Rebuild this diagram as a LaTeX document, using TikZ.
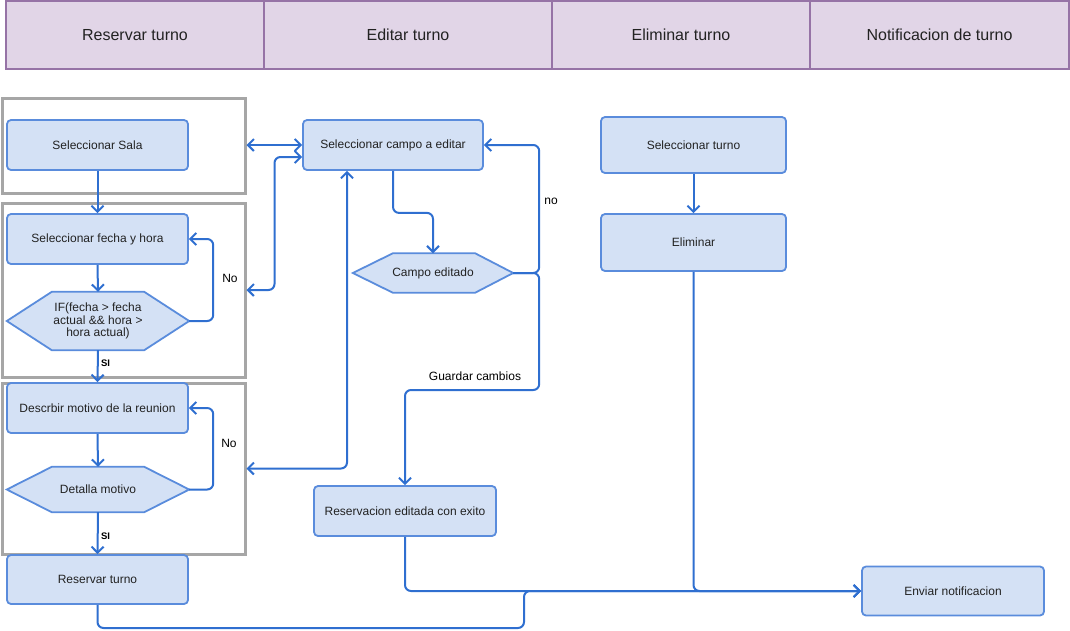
\documentclass[tikz,border=0pt]{standalone}
\usepackage{fontspec}
\setmainfont{Liberation Sans}
\usetikzlibrary{arrows.meta,calc}
\pgfdeclarelayer{background}
\pgfsetlayers{background,main}
\definecolor{headfill}{HTML}{E1D5E7}
\definecolor{headdraw}{HTML}{9673A6}
\definecolor{nodefill}{HTML}{D4E1F5}
\definecolor{nodedraw}{HTML}{5A8CDC}
\definecolor{edgecol}{HTML}{2F6FD0}
\definecolor{grayline}{HTML}{A6A6A6}
\definecolor{txt}{HTML}{222222}
\tikzset{
  headcell/.style={draw=headdraw, fill=headfill, line width=2pt, inner sep=0pt,
    font=\fontsize{16}{18}\selectfont, text=txt},
  procbox/.style={draw=nodedraw, fill=nodefill, line width=1.8pt, rounded corners=4pt,
    inner sep=0pt, font=\fontsize{12}{14}\selectfont, text=txt, align=center},
  hexbox/.style={inner sep=0pt, font=\fontsize{12}{12.5}\selectfont, text=txt, align=center},
  hexline/.style={draw=nodedraw, fill=nodefill, line width=1.8pt, line join=miter},
  grpbox/.style={draw=grayline, line width=3pt, inner sep=0pt},
  edge/.style={draw=edgecol, line width=2pt, rounded corners=6pt,
    -{Straight Barb[length=6pt,width=12pt]}},
  dedge/.style={draw=edgecol, line width=2pt, rounded corners=6pt,
    {Straight Barb[length=6pt,width=12pt]}-{Straight Barb[length=6pt,width=12pt]}},
  lbl/.style={font=\fontsize{12}{14}\selectfont, text=black, inner sep=0pt},
  silbl/.style={font=\fontsize{9.5}{11}\selectfont\bfseries, text=black, inner sep=0pt},
}
\begin{document}
\begin{tikzpicture}[x=1pt,y=-1pt]
\useasboundingbox (0,0) rectangle (1070,630);

% header
\node[headcell, minimum width=258pt, minimum height=68pt] (h1) at (135,35) {Reservar turno};
\node[headcell, minimum width=288pt, minimum height=68pt] (h2) at (408,35) {Editar turno};
\node[headcell, minimum width=258pt, minimum height=68pt] (h3) at (681,35) {Eliminar turno};
\node[headcell, minimum width=259pt, minimum height=68pt] (h4) at (939.5,35) {Notificacion de turno};

% group boxes
\node[grpbox, minimum width=243pt, minimum height=95pt] (g1) at (123.5,145.5) {};
\node[grpbox, minimum width=243pt, minimum height=174pt] (g2) at (123.5,290) {};
\node[grpbox, minimum width=243pt, minimum height=171pt] (g3) at (123.5,468.5) {};

% process nodes
\node[procbox, minimum width=181pt, minimum height=50pt] (sala) at (97.5,145) {Seleccionar Sala};
\node[procbox, minimum width=181pt, minimum height=50pt] (fecha) at (97.5,239) {Seleccionar fecha y hora};
\node[hexbox, minimum width=182pt, minimum height=58pt] (ifn) at (98,321) {IF(fecha > fecha\\actual \&\& hora >\\hora actual)};
\node[procbox, minimum width=181pt, minimum height=50pt] (desc) at (97.5,408) {Descrbir motivo de la reunion};
\node[hexbox, minimum width=182pt, minimum height=45pt] (det) at (98,489.5) {Detalla motivo};
\node[procbox, minimum width=181pt, minimum height=49pt] (res) at (97.5,579.5) {Reservar turno};

\node[procbox, minimum width=180pt, minimum height=50pt] (campo) at (393,145) {Seleccionar campo a editar};
\node[hexbox, minimum width=160pt, minimum height=39pt] (ced) at (433,273) {Campo editado};
\node[procbox, minimum width=182pt, minimum height=50pt] (rexito) at (405,511) {Reservacion editada con exito};

\node[procbox, minimum width=185pt, minimum height=56pt] (selt) at (693.5,145) {Seleccionar turno};
\node[procbox, minimum width=185pt, minimum height=57pt] (elim) at (693.5,242.5) {Eliminar};
\node[procbox, minimum width=182pt, minimum height=49pt] (env) at (953,591) {Enviar notificacion};

% hexagon outlines
\begin{pgfonlayer}{background}
\draw[hexline] (ifn.west) -- ([xshift=45pt]ifn.north west) -- ([xshift=-45pt]ifn.north east) -- (ifn.east) -- ([xshift=-45pt]ifn.south east) -- ([xshift=45pt]ifn.south west) -- cycle;
\draw[hexline] (det.west) -- ([xshift=45pt]det.north west) -- ([xshift=-45pt]det.north east) -- (det.east) -- ([xshift=-45pt]det.south east) -- ([xshift=45pt]det.south west) -- cycle;
\draw[hexline] (ced.west) -- ([xshift=40pt]ced.north west) -- ([xshift=-38pt]ced.north east) -- (ced.east) -- ([xshift=-38pt]ced.south east) -- ([xshift=40pt]ced.south west) -- cycle;
\end{pgfonlayer}

% coordinates
\coordinate (b1) at (524,628);

% edges: reservar
\draw[edge] (sala.south) -- (fecha.north);
\draw[edge] (fecha.south) -- (ifn.north);
\draw[edge] (ifn.south) -- (desc.north);
\draw[edge] (ifn.east) -- ++(24,0) |- (fecha.east);
\draw[edge] (desc.south) -- (det.north);
\draw[edge] (det.east) -- ++(24,0) |- (desc.east);
\draw[edge] (det.south) -- (res.north);
\draw[edge] (res.south) |- (b1) |- (env.west);

% edges: editar
\draw[dedge] (campo.west -| g1.east) -- (campo.west);
\draw[dedge] (g2.east) -- ++(28,0) |- ([yshift=-12pt]campo.west);
\draw[dedge] (g3.east) -| ([xshift=-46pt]campo.south);
\draw[edge] (campo.south) -- ++(0,42) -| (ced.north);
\draw[edge] (ced.east) -- ++(26,0) |- (campo.east);
\draw[edge] (ced.east) -- ++(26,0) -- ++(0,117) -| (rexito.north);
\draw[edge] (rexito.south) |- (env.west);

% edges: eliminar
\draw[edge] (selt.south) -- (elim.north);
\draw[edge] (elim.south) |- (env.west);

% labels
\node[lbl] (lno1) at (230,278) {No};
\node[lbl] (lno2) at (229,443) {No};
\node[silbl] (lsi1) at (105.5,363) {SI};
\node[silbl] (lsi2) at (105.5,536) {SI};
\node[lbl] (lno3) at (551,201) {no};
\node[lbl] (lgc) at (475,376) {Guardar cambios};
\end{tikzpicture}
\end{document}
